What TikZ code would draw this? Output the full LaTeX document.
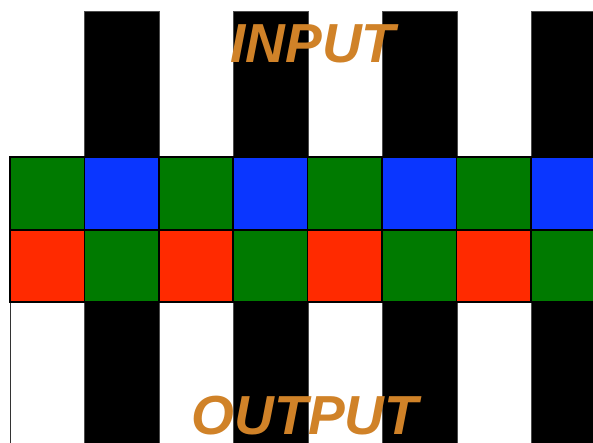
\documentclass[tikz,border=0pt]{standalone}
\usepackage{fontspec}
\setmainfont{Liberation Sans}
\definecolor{cgreen}{HTML}{007A00}
\definecolor{cblue}{HTML}{0A36FF}
\definecolor{cred}{HTML}{FF2A00}
\definecolor{corange}{HTML}{D08228}
\begin{document}
\begin{tikzpicture}[x=1pt,y=1pt,
  stripe/.style={fill=black,draw=black!70,line width=0.8pt},
  cell/.style={draw=black,line width=1.6pt},
  label/.style={text=corange,font=\bfseries\itshape\fontsize{55}{55}\selectfont,inner sep=0pt,anchor=base}]
\useasboundingbox (0,0) rectangle (593,442);
\clip (0,0) rectangle (593,442);
\fill[white] (0,0) rectangle (593,442);
% stripes
\foreach \x in {84.5,233.5,382.5,531.5}{
  \draw[stripe] (\x,285) rectangle (\x+74.5,431);
  \draw[stripe] (\x,-2) rectangle (\x+74.5,140);
}
\draw[black!80,line width=1.2pt] (10.5,-2) -- (10.5,140);
% grid
\foreach \i in {0,...,7}{
  \pgfmathsetmacro{\xa}{10+74.4*\i}
  \pgfmathsetmacro{\xb}{10+74.4*(\i+1)}
  \ifodd\i
    \draw[cell,fill=cblue] (\xa,212) rectangle (\xb,285);
    \draw[cell,fill=cgreen] (\xa,140) rectangle (\xb,212);
  \else
    \draw[cell,fill=cgreen] (\xa,212) rectangle (\xb,285);
    \draw[cell,fill=cred] (\xa,140) rectangle (\xb,212);
  \fi
}
\node[label] (input) at (313,379) {INPUT};
\node[label] (output) at (305,8) {OUTPUT};
\end{tikzpicture}
\end{document}
